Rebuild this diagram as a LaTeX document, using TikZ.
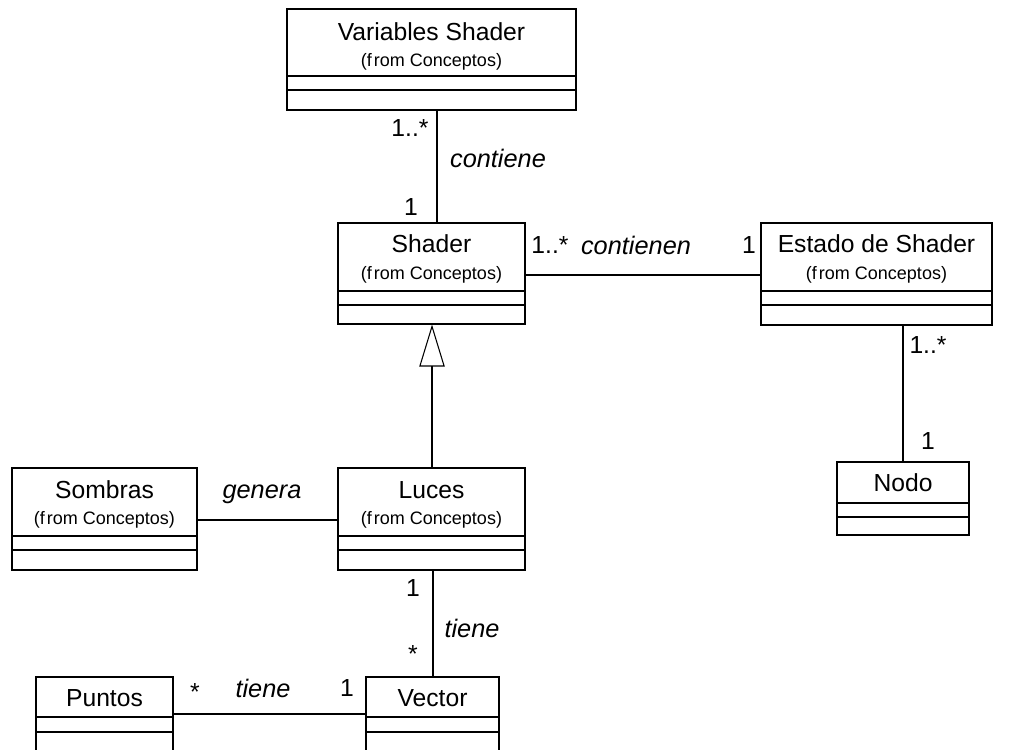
\documentclass[tikz,border=0pt]{standalone}
\usepackage{fontspec}
\setmainfont{Liberation Sans}
\usetikzlibrary{fit,arrows.meta}
\begin{document}
\begin{tikzpicture}[x=0.75pt,y=-0.75pt,
  box/.style={draw,line width=0.8pt,inner sep=0pt,fit={#1}},
  comp/.style={line width=0.8pt},
  ttl/.style={font=\fontsize{18.5}{20}\selectfont,inner sep=0pt},
  sub/.style={font=\fontsize{13.5}{15}\selectfont,inner sep=0pt},
  mult/.style={font=\fontsize{18.5}{20}\selectfont,inner sep=0pt},
  role/.style={font=\fontsize{19}{20}\selectfont\itshape,inner sep=0pt},
  link/.style={line width=0.8pt}]
\useasboundingbox (0,0) rectangle (1016,749);
\clip (0,0) rectangle (1016,749);

% class boxes
\node[box={(287,9) (576,110)}] (vs) {};
\node[box={(338,223) (525,324)}] (sh) {};
\node[box={(761,223) (992,325)}] (es) {};
\node[box={(837,462) (969,535)}] (no) {};
\node[box={(12,468) (197,570)}] (so) {};
\node[box={(338,468) (525,570)}] (lu) {};
\node[box={(36,677) (173,790)}] (pu) {};
\node[box={(366,677) (499,790)}] (ve) {};

% compartments
\foreach \n/\a/\b in {vs/76/90, sh/291/305, es/291/305, no/503/517, so/536/550, lu/536/550, pu/717/732, ve/717/732}{
  \draw[comp] (\n.west |- 0,\a) -- (\n.east |- 0,\a);
  \draw[comp] (\n.west |- 0,\b) -- (\n.east |- 0,\b);
}

% class names
\node[ttl] (vst) at (431.5,32) {Variables Shader};
\node[sub] (vss) at (431.5,62) {(f\kern1.5pt rom Conceptos)};
\node[ttl] (sht) at (431.5,244) {Shader};
\node[sub] (shs) at (431.5,275) {(f\kern1.5pt rom Conceptos)};
\node[ttl] (est) at (876.5,244) {Estado de Shader};
\node[sub] (ess) at (876.5,275) {(f\kern1.5pt rom Conceptos)};
\node[ttl] (not) at (903,483) {Nodo};
\node[ttl] (sot) at (104.5,490) {Sombras};
\node[sub] (sos) at (104.5,520) {(f\kern1.5pt rom Conceptos)};
\node[ttl] (lut) at (431.5,490) {Luces};
\node[sub] (lus) at (431.5,520) {(f\kern1.5pt rom Conceptos)};
\node[ttl] (put) at (104.5,698) {Puntos};
\node[ttl] (vet) at (432.5,698) {Vector};

% associations
\draw[link] (vs.south -| 437,0) -- (sh.north -| 437,0);
\draw[link] (sh.east |- 0,275) -- (es.west |- 0,275);
\draw[link] (es.south -| 903,0) -- (no.north -| 903,0);
\draw[link] (so.east |- 0,520) -- (lu.west |- 0,520);
\draw[link] (lu.south -| 433,0) -- (ve.north -| 433,0);
\draw[link] (pu.east |- 0,714) -- (ve.west |- 0,714);

% generalization
\draw[link,-{Triangle[open,length=31.5pt,width=19pt,line width=0.8pt]}] (lu.north -| 432,0) -- (sh.south -| 432,0);

% multiplicities and association names
\node[mult] (m1) at (410,128) {1..*};
\node[role] (r1) at (498,158) {contiene};
\node[mult] (m2) at (411,207) {1};
\node[mult] (m3) at (550,245) {1..*};
\node[role] (r2) at (636,245) {contienen};
\node[mult] (m4) at (749,245) {1};
\node[mult] (m5) at (928,345) {1..*};
\node[mult] (m6) at (928,441) {1};
\node[role] (r3) at (262,494) {genera};
\node[mult] (m7) at (413,588) {1};
\node[role] (r4) at (472,628) {tiene};
\node[mult] (m8) at (413,654) {*};
\node[mult] (m9) at (195,692) {*};
\node[role] (r5) at (263,688) {tiene};
\node[mult] (m10) at (347,688) {1};
\end{tikzpicture}
\end{document}
